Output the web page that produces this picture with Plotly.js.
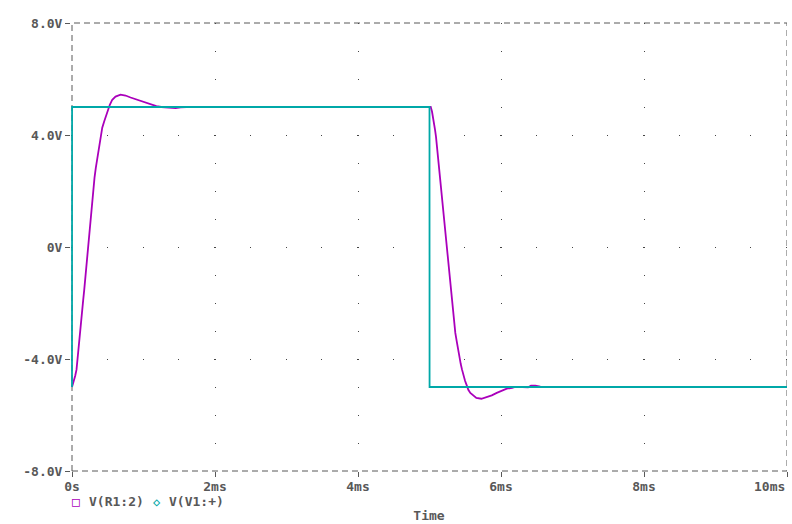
<!DOCTYPE html>
<html>
<head>
<meta charset="utf-8">
<script src="https://cdn.plot.ly/plotly-3.0.1.min.js"></script>
<style>html,body{margin:0;padding:0;background:#fff;}#chart{width:792px;height:524px;}</style>
</head>
<body>
<div id="chart"></div>
<script>
// Time in ms, voltage in V
const timeR1 = [0, 0.025, 0.045, 0.063, 0.081, 0.101, 0.115, 0.129, 0.143, 0.157, 0.171, 0.185, 0.199, 0.213, 0.227, 0.235, 0.249, 0.263, 0.283, 0.297, 0.315, 0.333, 0.353, 0.375, 0.395, 0.423, 0.451, 0.479, 0.507, 0.529, 0.563, 0.609, 0.679, 0.749, 0.819, 0.899, 0.992, 1.085, 1.155, 1.18, 1.25, 1.33, 1.38, 1.45, 1.52, 1.6, 5.0,
  5.017, 5.035, 5.049, 5.063, 5.077, 5.091, 5.105, 5.119, 5.137, 5.151, 5.165, 5.179, 5.193, 5.207, 5.221, 5.235, 5.249, 5.263, 5.277, 5.291, 5.305, 5.319, 5.333, 5.347, 5.361, 5.381, 5.399, 5.417, 5.437, 5.455, 5.473, 5.497, 5.521, 5.543, 5.571, 5.609, 5.655, 5.725, 5.801, 5.871, 5.941, 6.011, 6.081, 6.155, 6.2, 6.3, 6.38, 6.42, 6.48, 6.55, 6.62, 10];
const voltR1 = [-5, -4.80, -4.60, -4.38, -3.95, -3.43, -3.06, -2.70, -2.30, -1.88, -1.53, -1.13, -0.74, -0.34, 0.08, 0.44, 0.87, 1.23, 1.63, 2.05, 2.48, 2.83, 3.12, 3.48, 3.83, 4.26, 4.49, 4.73, 4.94, 5.08, 5.26, 5.37, 5.44, 5.41, 5.34, 5.27, 5.18, 5.09, 5.04, 5.03, 5.0, 4.99, 4.96, 4.96, 4.99, 5.0, 5.0,
  5.0, 4.84, 4.66, 4.45, 4.19, 3.93, 3.57, 3.21, 2.84, 2.45, 2.07, 1.69, 1.27, 0.88, 0.50, 0.08, -0.27, -0.63, -0.99, -1.35, -1.70, -2.06, -2.42, -2.78, -3.07, -3.37, -3.67, -3.94, -4.18, -4.38, -4.59, -4.78, -4.94, -5.10, -5.21, -5.30, -5.39, -5.42, -5.37, -5.30, -5.21, -5.12, -5.06, -5.03, -5.0, -5.0, -5.01, -4.95, -4.95, -4.99, -5.0, -5.0];

const timeV1 = [0, 0.001, 5.0, 5.001, 10];
const voltV1 = [-5, 5, 5, -5, -5];

const xTickVals = [0, 2, 4, 6, 8, 10];
const xTickText = ['0s', '2ms', '4ms', '6ms', '8ms', ''];
const xLastLabel = '10ms';
const yTickVals = [8, 4, 0, -4, -8];
const yTickText = ['8.0V', '4.0V', '0V', '-4.0V', '-8.0V'];
const seriesNames = ['V(R1:2)', 'V(V1:+)'];

const MAG = '#aa00bb';
const CYA = '#00a8a8';
const TXT = '#585858';
const FONT = 'DejaVu Sans Mono';
const tf = {family: FONT, size: 13, color: TXT, weight: 'bold'};

const traces = [
  {x: timeR1, y: voltR1, mode: 'lines', name: seriesNames[0], line: {color: MAG, width: 1.8}, showlegend: false},
  {x: timeV1, y: voltV1, mode: 'lines', name: seriesNames[1], line: {color: CYA, width: 1.8}, showlegend: false}
];

const layout = {
  width: 792, height: 524,
  margin: {l: 71, r: 5, t: 23, b: 53},
  paper_bgcolor: '#fff', plot_bgcolor: '#fff',
  font: tf,
  showlegend: false,
  xaxis: {
    range: [-0.014, 10], tickmode: 'array', tickvals: xTickVals, ticktext: xTickText,
    ticks: 'outside', ticklen: 5, tickcolor: TXT, tickwidth: 1,
    showgrid: true, gridcolor: '#444', gridwidth: 1, griddash: '1px,27px',
    zeroline: false, showline: false, ticklabelstandoff: -2,
    title: {text: 'Time', font: tf, standoff: 18},
    tickfont: tf
  },
  yaxis: {
    range: [-8, 8], tickmode: 'array', tickvals: yTickVals, ticktext: yTickText,
    ticks: 'outside', ticklen: 5, tickcolor: TXT, tickwidth: 1,
    showgrid: true, gridcolor: '#444', gridwidth: 1, griddash: '1px,34.75px',
    zeroline: false, showline: false,
    tickfont: tf
  },
  shapes: [
    {type: 'rect', xref: 'x', yref: 'paper', x0: 0, x1: 10, y0: 0, y1: 1,
     line: {color: TXT, width: 1, dash: '6px,4px'}, layer: 'below'}
  ],
  annotations: [
    {xref: 'x', yref: 'paper', x: 10, xanchor: 'right', y: 0, yanchor: 'top', yshift: -6, text: xLastLabel, showarrow: false, font: tf},
    {xref: 'paper', yref: 'paper', x: 0.0075, y: -0.069, text: '\u25A1', showarrow: false, xanchor: 'center', yanchor: 'middle', font: {family: FONT, size: 13, color: MAG}},
    {xref: 'paper', yref: 'paper', x: 0.022, y: -0.069, text: seriesNames[0], showarrow: false, xanchor: 'left', yanchor: 'middle', font: tf},
    {xref: 'paper', yref: 'paper', x: 0.1205, y: -0.069, text: '\u25C7', showarrow: false, xanchor: 'center', yanchor: 'middle', font: {family: FONT, size: 12, color: CYA}},
    {xref: 'paper', yref: 'paper', x: 0.134, y: -0.069, text: seriesNames[1], showarrow: false, xanchor: 'left', yanchor: 'middle', font: tf}
  ]
};

Plotly.newPlot('chart', traces, layout, {staticPlot: true, displayModeBar: false});
</script>
</body>
</html>
